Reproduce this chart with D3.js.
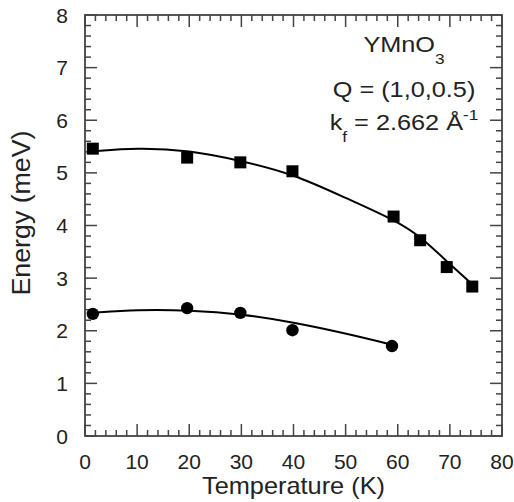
<!DOCTYPE html>
<html>
<head>
<meta charset="utf-8">
<script src="https://cdn.jsdelivr.net/npm/d3@7"></script>
<style>
  body { margin: 0; background: #fff; }
  text { font-family: "Liberation Sans", Arial, sans-serif; fill: #222; }
</style>
</head>
<body>
<div id="chart-container"></div>
<script>
var squareT = [1.5, 19.6, 29.8, 39.8, 59.2, 64.3, 69.4, 74.3]
var squareE = [5.46, 5.29, 5.20, 5.03, 4.17, 3.72, 3.21, 2.84]
var circleT = [1.5, 19.6, 29.8, 39.8, 58.9]
var circleE = [2.32, 2.43, 2.34, 2.01, 1.71]

// fitted curves
var upperFitT = [1.5, 10, 20, 30, 40, 50, 60, 65, 70, 75]
var upperFitE = [5.41, 5.48, 5.43, 5.23, 4.98, 4.52, 4.08, 3.74, 3.26, 2.82]
var lowerFitT = [1.5, 10, 20, 30, 40, 50, 59.5]
var lowerFitE = [2.34, 2.40, 2.39, 2.32, 2.16, 1.95, 1.72]

var xTicks = [0, 10, 20, 30, 40, 50, 60, 70, 80]
var yTicks = [0, 1, 2, 3, 4, 5, 6, 7, 8]
var xMinorTicks = [0, 2, 4, 6, 8, 10, 12, 14, 16, 18, 20, 22, 24, 26, 28, 30, 32, 34, 36, 38, 40,
  42, 44, 46, 48, 50, 52, 54, 56, 58, 60, 62, 64, 66, 68, 70, 72, 74, 76, 78, 80]
var yMinorTicks = [0, 0.2, 0.4, 0.6, 0.8, 1, 1.2, 1.4, 1.6, 1.8, 2, 2.2, 2.4, 2.6, 2.8, 3, 3.2, 3.4, 3.6, 3.8,
  4, 4.2, 4.4, 4.6, 4.8, 5, 5.2, 5.4, 5.6, 5.8, 6, 6.2, 6.4, 6.6, 6.8, 7, 7.2, 7.4, 7.6, 7.8, 8]

var margin = {top: 15, right: 12, bottom: 66, left: 85}
var width = 514 - margin.left - margin.right
var height = 502 - margin.top - margin.bottom

var xScale = d3.scaleLinear().domain([0, 80]).range([0, width])
var yScale = d3.scaleLinear().domain([0, 8]).range([height, 0])

var svg = d3.select('#chart-container')
  .append('svg')
  .attr('width', 514)
  .attr('height', 502)
  .append('g')
  .attr('transform', 'translate(' + margin.left + ', ' + margin.top + ')')

var axisColor = '#444'

/* tick labels */
svg.selectAll('.xl').data(xTicks).enter().append('text')
  .attr('x', d => xScale(d)).attr('y', height + 33)
  .attr('text-anchor', 'middle').style('font-size', '21px')
  .text(d => d)
svg.selectAll('.ylab').data(yTicks).enter().append('text')
  .attr('x', -17).attr('y', d => yScale(d) + 7.5)
  .attr('text-anchor', 'end').style('font-size', '21px')
  .text(d => d)

/* inward ticks on all four sides */
function majorX(v) { return v % 10 === 0 }
function majorY(v) { return Math.abs(v - Math.round(v)) < 1e-6 }

var ticks = svg.append('g').attr('stroke', axisColor).attr('stroke-width', 1.5)
ticks.selectAll('.tick-bottom').data(xMinorTicks).enter().append('line')
  .attr('class', 'tick-bottom')
  .attr('x1', d => xScale(d)).attr('x2', d => xScale(d))
  .attr('y1', height).attr('y2', d => height - (majorX(d) ? 12 : 6))
ticks.selectAll('.tick-top').data(xMinorTicks).enter().append('line')
  .attr('class', 'tick-top')
  .attr('x1', d => xScale(d)).attr('x2', d => xScale(d))
  .attr('y1', 0).attr('y2', d => majorX(d) ? 12 : 6)
ticks.selectAll('.tick-left').data(yMinorTicks).enter().append('line')
  .attr('class', 'tick-left')
  .attr('y1', d => yScale(d)).attr('y2', d => yScale(d))
  .attr('x1', 0).attr('x2', d => majorY(d) ? 12 : 6)
ticks.selectAll('.tick-right').data(yMinorTicks).enter().append('line')
  .attr('class', 'tick-right')
  .attr('y1', d => yScale(d)).attr('y2', d => yScale(d))
  .attr('x1', width).attr('x2', d => width - (majorY(d) ? 12 : 6))

/* frame */
svg.append('rect')
  .attr('width', width).attr('height', height)
  .attr('fill', 'none').attr('stroke', axisColor).attr('stroke-width', 1.8)

var line = d3.line()
  .curve(d3.curveBasis)
  .x(d => xScale(d[0]))
  .y(d => yScale(d[1]))

svg.append('path')
  .datum(d3.zip(upperFitT, upperFitE))
  .attr('d', line).attr('fill', 'none').attr('stroke', '#000').attr('stroke-width', 2)
svg.append('path')
  .datum(d3.zip(lowerFitT, lowerFitE))
  .attr('d', line).attr('fill', 'none').attr('stroke', '#000').attr('stroke-width', 2)

var side = 12
svg.selectAll('.sq')
  .data(d3.zip(squareT, squareE))
  .enter().append('rect')
  .attr('x', d => xScale(d[0]) - side / 2)
  .attr('y', d => yScale(d[1]) - side / 2)
  .attr('width', side).attr('height', side)
  .attr('fill', '#000')

svg.selectAll('.ci')
  .data(d3.zip(circleT, circleE))
  .enter().append('circle')
  .attr('cx', d => xScale(d[0]))
  .attr('cy', d => yScale(d[1]))
  .attr('r', 6.2)
  .attr('fill', '#000')

/* axis titles */
svg.append('text')
  .attr('x', width / 2).attr('y', height + 58)
  .attr('text-anchor', 'middle')
  .style('font-size', '24px')
  .attr('textLength', 183).attr('lengthAdjust', 'spacingAndGlyphs')
  .text('Temperature (K)')

svg.append('text')
  .attr('transform', 'translate(' + (-55) + ',' + 198 + ') rotate(-90)')
  .attr('text-anchor', 'middle')
  .style('font-size', '25px')
  .attr('textLength', 165).attr('lengthAdjust', 'spacingAndGlyphs')
  .text('Energy (meV)')

/* annotation, slightly wide lettering like the original */
var note = svg.append('g').attr('transform', 'translate(' + (404 - margin.left) + ',' + (-margin.top) + ') scale(1.15,1)')
var t1 = note.append('text').attr('x', 0).attr('y', 52).attr('text-anchor', 'middle').style('font-size', '22px')
t1.append('tspan').text('YMnO')
t1.append('tspan').attr('dy', 12).style('font-size', '15px').text('3')

note.append('text').attr('x', 0).attr('y', 97).attr('text-anchor', 'middle')
  .style('font-size', '22px').text('Q = (1,0,0.5)')

var t3 = note.append('text').attr('x', 0).attr('y', 130).attr('text-anchor', 'middle').style('font-size', '22px')
t3.append('tspan').text('k')
t3.append('tspan').attr('dy', 12).style('font-size', '15px').text('f')
t3.append('tspan').attr('dy', -12).text(' = 2.662 Å')
t3.append('tspan').attr('dy', -10).style('font-size', '15px').text('-1')
</script>
</body>
</html>
